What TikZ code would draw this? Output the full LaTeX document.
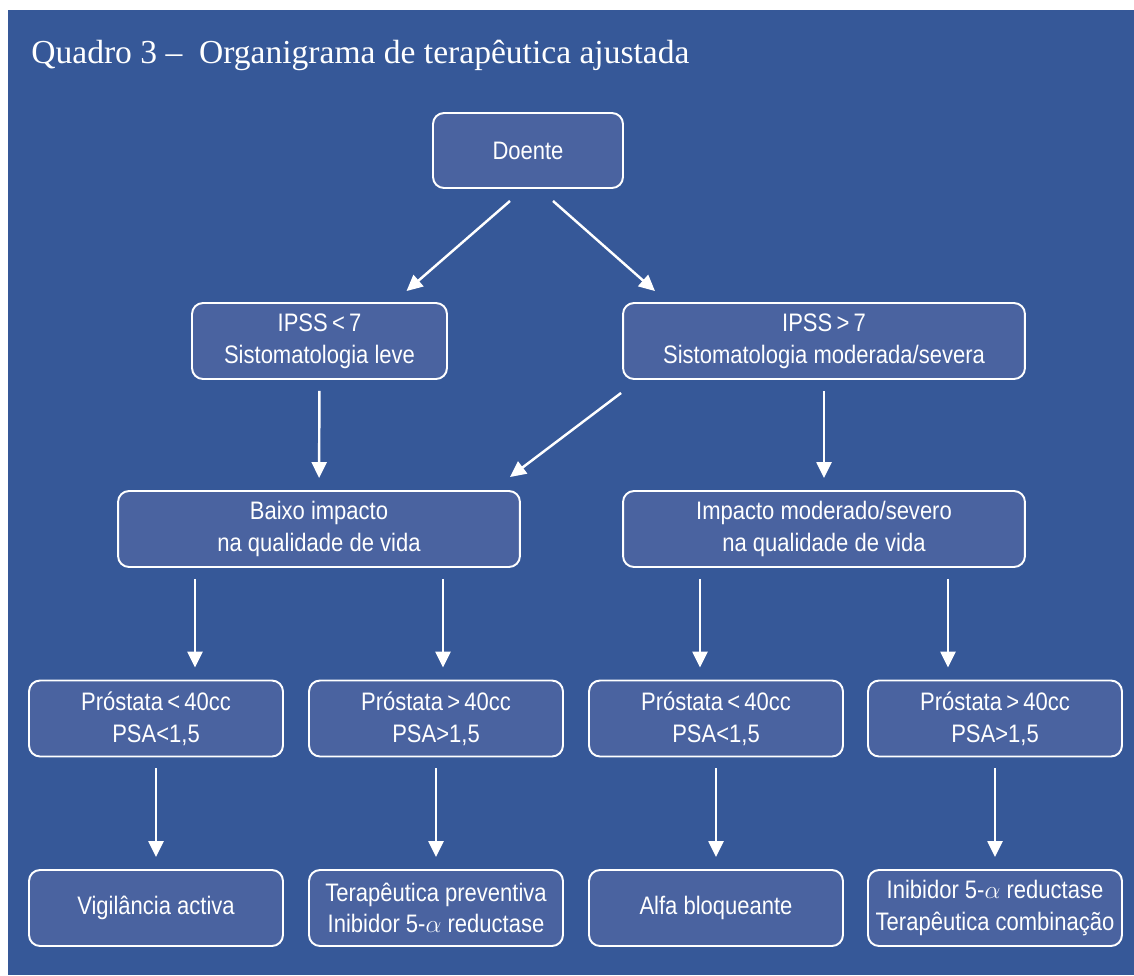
\documentclass[tikz,border=0pt]{standalone}
\usepackage{fontspec}
\setmainfont{Liberation Sans}[FakeStretch=0.87]
\newfontfamily\titulofont{Liberation Serif}
\usetikzlibrary{arrows.meta,calc}
\definecolor{fundo}{RGB}{54,88,152}
\definecolor{azulcaixa}{RGB}{74,99,160}

\begin{document}
\begin{tikzpicture}[x=0.02cm,y=-0.02cm,
	caixa/.style={draw=white, line width=1.1pt, fill=azulcaixa, rounded corners=0.22cm,
		text=white, align=center, inner sep=2pt, minimum height=1.52cm,
		font=\fontsize{14.4}{18}\selectfont},
	larga/.style={caixa, minimum width=8.04cm},
	estreita/.style={caixa, minimum width=5.08cm},
	seta/.style={draw=white, line width=1.4pt, -{Triangle[length=0.32cm,width=0.3cm]}},
	desce/.style={seta, shorten <=0.22cm, shorten >=0.24cm}]

	\fill[white] (0,0) rectangle (1134,975);
	\useasboundingbox (0,0) rectangle (1134,975);
	\fill[fundo] (8,10) rectangle (1134,975);

	\node[anchor=base west, text=white, inner sep=0pt, font=\titulofont\fontsize{19.1}{22}\selectfont]
		(titulo) at (31,63) {Quadro 3 –\ \ Organigrama de terapêutica ajustada};

	\node[caixa, minimum width=3.8cm, minimum height=1.5cm] (doente) at (528,150.5) {Doente};
	\node[estreita, minimum width=5.1cm] (leve) at (319.5,341) {IPSS\,<\,7\\Sistomatologia leve};
	\node[larga] (severa) at (824,341) {IPSS\,>\,7\\Sistomatologia moderada/severa};
	\node[larga] (baixo) at (319,529) {Baixo impacto\\na qualidade de vida};
	\node[larga] (impacto) at (824,529) {Impacto moderado/severo\\na qualidade de vida};

	\node[estreita] (p1) at (156,718.5) {Próstata\,<\,40cc\\PSA<1,5};
	\node[estreita] (p2) at (436,718.5) {Próstata\,>\,40cc\\PSA>1,5};
	\node[estreita] (p3) at (716,718.5) {Próstata\,<\,40cc\\PSA<1,5};
	\node[estreita] (p4) at (995,718.5) {Próstata\,>\,40cc\\PSA>1,5};

	\node[estreita] (t1) at (156,908) {Vigilância activa};
	\node[estreita] (t2) at (436,908) {Terapêutica preventiva\\Inibidor 5-$\alpha$ reductase};
	\node[estreita] (t3) at (716,908) {Alfa bloqueante};
	\node[estreita] (t4) at (995,908) {Inibidor 5-$\alpha$ reductase\\Terapêutica combinação};

	\draw[seta] ($(doente.south)+(-18,12)$) -- ($(leve.north)+(87,-11)$);
	\draw[seta] ($(doente.south)+(25,12)$) -- ($(severa.north)+(-169,-11)$);
	\draw[desce] (leve) -- (baixo);
	\draw[seta] ($(severa.south west)+(-1,13)$) -- ($(baixo.north east)+(-11,-13)$);
	\draw[desce] (severa) -- (impacto);

	\coordinate (b1) at ($(baixo.south)+(-124,0)$);
	\coordinate (b2) at ($(baixo.south)+(124,0)$);
	\coordinate (b3) at ($(impacto.south)+(-124,0)$);
	\coordinate (b4) at ($(impacto.south)+(124,0)$);
	\draw[desce] (b1) -- (b1 |- p1.north);
	\draw[desce] (b2) -- (b2 |- p2.north);
	\draw[desce] (b3) -- (b3 |- p3.north);
	\draw[desce] (b4) -- (b4 |- p4.north);

	\draw[desce] (p1) -- (t1);
	\draw[desce] (p2) -- (t2);
	\draw[desce] (p3) -- (t3);
	\draw[desce] (p4) -- (t4);

\end{tikzpicture}
\end{document}
